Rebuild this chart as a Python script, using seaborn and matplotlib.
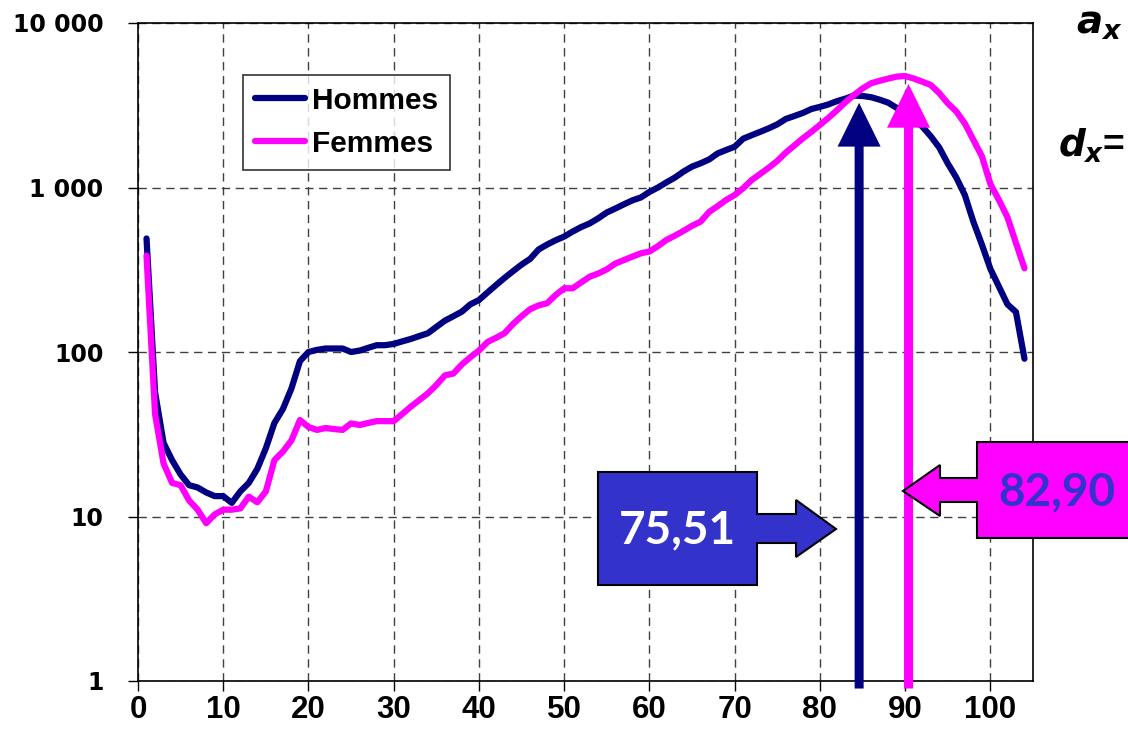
import matplotlib
matplotlib.use('Agg')
import matplotlib.pyplot as plt
import seaborn as sns
import pandas as pd
import numpy as np
from matplotlib.patches import Polygon, FancyArrowPatch
from matplotlib.ticker import FixedLocator, FixedFormatter, NullLocator

# ---- data ----
ages = list(range(1, 105))
hommes = [490, 57, 28, 22, 18, 15.5, 15, 14, 13.3, 13.3,
          12.1, 14.2, 16, 19.5, 26, 37, 45, 60, 88, 100,
          103, 105, 105, 105, 100, 102, 106, 110, 110, 112,
          116, 120, 125, 130, 142, 155, 165, 176, 195, 207,
          230, 255, 282, 310, 340, 368, 420, 450, 478, 503,
          540, 575, 605, 650, 705, 745, 790, 835, 870, 940,
          1000, 1075, 1150, 1250, 1340, 1403, 1480, 1611, 1690, 1770,
          1980, 2080, 2180, 2290, 2420, 2610, 2720, 2840, 3000, 3090,
          3200, 3350, 3470, 3620, 3600, 3540, 3420, 3280, 3050, 2850,
          2600, 2350, 2050, 1750, 1400, 1150, 900, 620, 450, 320,
          250, 195, 175, 91]
femmes = [385, 42, 21, 16, 15.5, 12.5, 11, 9.1, 10.3, 11,
          11, 11.2, 13.2, 12.2, 14.2, 22, 24.8, 29, 38.6, 35,
          33.6, 34.5, 34, 33.6, 36.8, 36, 37, 38, 38, 38,
          42, 46.5, 51, 56, 63, 72, 74, 84, 93, 102,
          115, 122, 130, 148, 165, 182, 192, 198, 222, 244,
          244, 265, 287, 300, 318, 345, 362, 380, 398, 408,
          440, 480, 510, 545, 585, 620, 710, 770, 840, 900,
          990, 1110, 1210, 1320, 1450, 1630, 1800, 1990, 2180, 2400,
          2650, 2950, 3300, 3650, 4000, 4300, 4450, 4590, 4720, 4760,
          4600, 4400, 4200, 3750, 3250, 2900, 2450, 1950, 1550, 1050,
          840, 660, 460, 323]
series = ['Hommes', 'Femmes']
colors = ['#000080', '#FF00FF']
x_ticks = [0, 10, 20, 30, 40, 50, 60, 70, 80, 90, 100]
y_ticks = [1, 10, 100, 1000, 10000]
y_labels = ['1', '10', '100', '1 000', '10 000']
modal_ages = [84.6, 90.4]
modal_tops = [3270, 4260]
callout_labels = ['75,51', '82,90']

W, H = 1128, 744

sns.set_style('white')
plt.rcParams['font.family'] = ['Liberation Sans', 'DejaVu Sans']
plt.rcParams['text.color'] = 'black'
plt.rcParams['xtick.color'] = 'black'
plt.rcParams['ytick.color'] = 'black'
plt.rcParams['axes.labelcolor'] = 'black'
plt.rcParams['mathtext.fontset'] = 'custom'
plt.rcParams['mathtext.it'] = 'DejaVu Sans:italic:bold'
plt.rcParams['mathtext.rm'] = 'DejaVu Sans:bold'

df = pd.DataFrame({
    'Age': ages * 2,
    'Deces': hommes + femmes,
    'Sexe': ['Hommes'] * len(ages) + ['Femmes'] * len(ages),
})

fig = plt.figure(figsize=(W / 100, H / 100), dpi=100)
ax = fig.add_axes([138 / W, 1 - 681 / H, 895 / W, 658 / H])

sns.lineplot(data=df, x='Age', y='Deces', hue='Sexe', hue_order=series,
             palette=dict(zip(series, colors)), linewidth=4.5, ax=ax,
             zorder=3)

ax.set_yscale('log')
ax.set_xlim(0, 105)
ax.set_ylim(1, 10000)
ax.set_xlabel('')
ax.set_ylabel('')
ax.xaxis.set_major_locator(FixedLocator(x_ticks))
ax.yaxis.set_major_locator(FixedLocator(y_ticks))
ax.yaxis.set_major_formatter(FixedFormatter(y_labels))
ax.yaxis.set_minor_locator(NullLocator())
ax.grid(True, which='major', linestyle=(0, (6, 4)), color='#404040', lw=1)
ax.set_axisbelow(True)
for s in ax.spines.values():
    s.set_color('black')
    s.set_linewidth(1.2)
    s.set_zorder(5)
ax.tick_params(axis='both', which='major', direction='out', length=7,
               width=1, color='black', labelcolor='black', left=True, bottom=True)
ax.tick_params(axis='y', pad=18)
ax.tick_params(axis='x', pad=3)
for lab in ax.get_yticklabels():
    lab.set_family('DejaVu Sans')
    lab.set_fontweight('bold')
    lab.set_fontsize(17)
for lab in ax.get_xticklabels():
    lab.set_family('Liberation Sans')
    lab.set_fontweight('bold')
    lab.set_fontsize(22.5)

handles, labels = ax.get_legend_handles_labels()
leg = ax.legend(handles, labels, loc='upper left', bbox_to_anchor=(0.117, 0.921),
                borderaxespad=0, frameon=True, fancybox=False, handlelength=1.67,
                handletextpad=0.25, labelcolor='black',
                prop={'family': 'Liberation Sans', 'weight': 'bold', 'size': 21.5})
leg.get_frame().set_edgecolor('black')
leg.get_frame().set_linewidth(1.2)
for h in leg.get_lines():
    h.set_linewidth(4.5)

# vertical arrows (modal ages)
for a, top, c in zip(modal_ages, modal_tops, colors):
    arr = FancyArrowPatch((a, 0.9), (a, top),
                          arrowstyle='simple,head_length=31.5,head_width=31,tail_width=6.5',
                          mutation_scale=1, color=c, lw=0, shrinkA=0, shrinkB=0,
                          zorder=6, clip_on=False)
    ax.add_patch(arr)


def px(pts):
    return [(x / W, 1 - y / H) for x, y in pts]


# callouts (Excel style arrow callouts)
blue_shape = [(598, 472), (757, 472), (757, 514), (796, 514), (796, 500), (836, 529),
              (796, 557), (796, 543), (757, 543), (757, 585), (598, 585)]
pink_shape = [(1145, 442), (977, 442), (977, 478), (940, 478), (940, 465), (903, 491),
              (940, 516), (940, 502), (977, 502), (977, 538), (1145, 538)]
fig.add_artist(Polygon(px(blue_shape), closed=True, transform=fig.transFigure,
                       facecolor='#3333CC', edgecolor='black', lw=1.5, zorder=10))
fig.add_artist(Polygon(px(pink_shape), closed=True, transform=fig.transFigure,
                       facecolor='#FF00FF', edgecolor='black', lw=1.5, zorder=10))
fig.text(677 / W, 1 - 530 / H, callout_labels[0], color='white', fontsize=33,
         family='Lato', fontweight='bold', ha='center', va='center', zorder=11)
fig.text(1057 / W, 1 - 492 / H, callout_labels[1], color='#3333CC', fontsize=33,
         family='Lato', fontweight='bold', ha='center', va='center', zorder=11)

# formula text at the top right
fig.text(1076 / W, 1 - 34 / H, r'$a_x$', fontsize=28, ha='left', va='baseline')
fig.text(1125 / W, 1 - 157 / H, r'$d_x$=', fontsize=27, fontweight='bold',
         ha='right', va='baseline')

fig.savefig('out.png', dpi=100)
